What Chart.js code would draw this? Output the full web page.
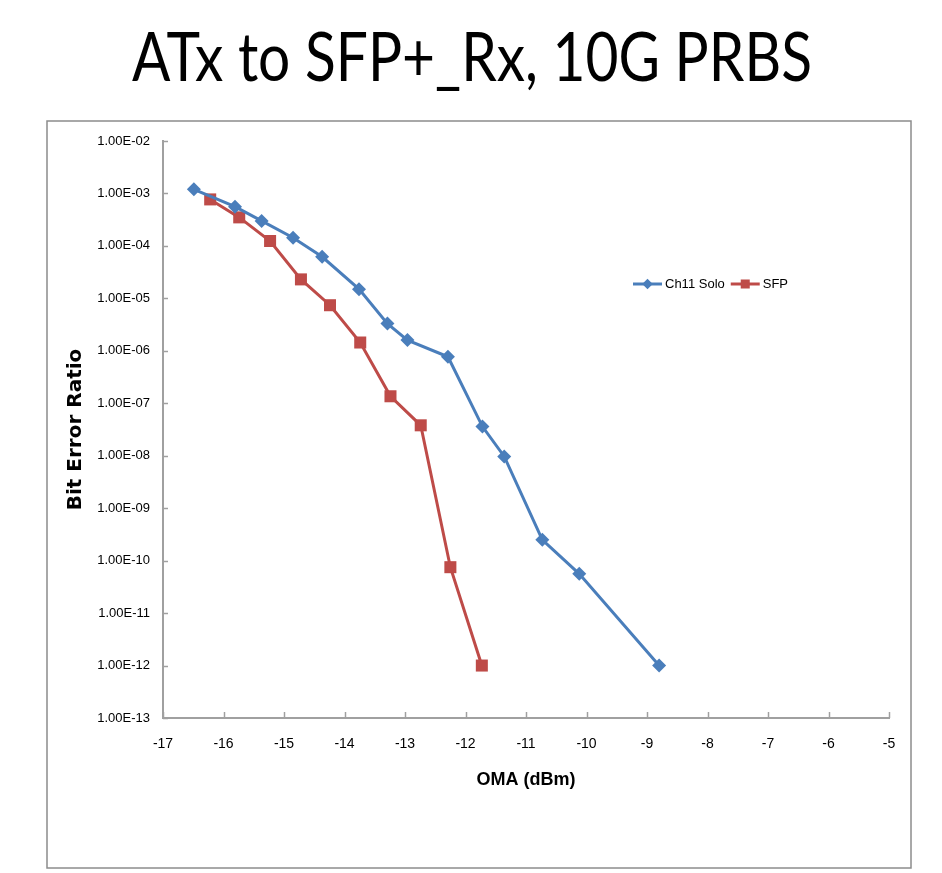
<!DOCTYPE html>
<html>
<head>
<meta charset="utf-8">
<title>ATx to SFP+_Rx, 10G PRBS</title>
<script src="https://cdn.jsdelivr.net/npm/chart.js@4.4.1/dist/chart.umd.min.js"></script>
<style>
  html, body { margin: 0; padding: 0; background: #fff; }
  canvas { display: block; }
</style>
</head>
<body>
<canvas id="berChart" width="942" height="873"></canvas>
<script>
// values: OMA in dBm, bit error ratio
const ch11Oma = [-16.49, -15.81, -15.37, -14.85, -14.37, -13.76, -13.29, -12.96, -12.29, -11.72, -11.36, -10.73, -10.12, -8.8];
const ch11Ber = [1.2e-3, 5.6e-4, 3.0e-4, 1.43e-4, 6.2e-5, 1.5e-5, 3.3e-6, 1.6e-6, 7.7e-7, 3.6e-8, 9.7e-9, 2.5e-10, 5.6e-11, 1.0e-12];
const sfpOma = [-16.22, -15.74, -15.23, -14.72, -14.24, -13.74, -13.24, -12.74, -12.25, -11.73];
const sfpBer = [7.7e-4, 3.5e-4, 1.24e-4, 2.3e-5, 7.4e-6, 1.44e-6, 1.36e-7, 3.8e-8, 7.5e-11, 1.0e-12];

const berTicks = [1e-2, 1e-3, 1e-4, 1e-5, 1e-6, 1e-7, 1e-8, 1e-9, 1e-10, 1e-11, 1e-12, 1e-13];
const berTickLabels = ['1.00E-02', '1.00E-03', '1.00E-04', '1.00E-05', '1.00E-06', '1.00E-07',
  '1.00E-08', '1.00E-09', '1.00E-10', '1.00E-11', '1.00E-12', '1.00E-13'];
const omaTicks = [-17, -16, -15, -14, -13, -12, -11, -10, -9, -8, -7, -6, -5];

const tickFont = { family: '"Liberation Sans Narrow", "Arial Narrow", "Liberation Sans", sans-serif', size: 13 };
const axisGray = '#a0a0a0';

function toPoints(xs, ys) {
  return xs.map((x, i) => ({ x: x, y: ys[i] }));
}

// frame, title, inside tick marks and the legend
const decorations = {
  id: 'decorations',
  beforeDraw(chart) {
    const ctx = chart.ctx;
    ctx.save();
    ctx.fillStyle = '#fff';
    ctx.fillRect(0, 0, chart.width, chart.height);
    ctx.restore();
  },
  afterDraw(chart) {
    const ctx = chart.ctx;
    const area = chart.chartArea;
    ctx.save();

    // outer frame
    ctx.strokeStyle = '#8c8c8c';
    ctx.lineWidth = 1.5;
    ctx.strokeRect(47, 121, 864, 747);

    // title
    ctx.fillStyle = '#000';
    ctx.font = '68px Lato, "Open Sans", sans-serif';
    ctx.textAlign = 'center';
    ctx.textBaseline = 'alphabetic';
    ctx.fillText('ATx to SFP+_Rx, 10G PRBS', 472, 81, 680);

    // tick marks point inward
    ctx.strokeStyle = axisGray;
    ctx.lineWidth = 1.5;
    const xs = chart.scales.x, ys = chart.scales.y;
    xs.ticks.forEach(t => {
      const px = Math.round(xs.getPixelForValue(t.value)) + 0.5;
      ctx.beginPath();
      ctx.moveTo(px, area.bottom);
      ctx.lineTo(px, area.bottom - 6);
      ctx.stroke();
    });
    ys.ticks.forEach(t => {
      const py = Math.round(ys.getPixelForValue(t.value)) + 0.5;
      ctx.beginPath();
      ctx.moveTo(area.left, py);
      ctx.lineTo(area.left + 5, py);
      ctx.stroke();
    });

    // legend
    let lx = 633;
    const ly = 284;
    ctx.font = '13px ' + tickFont.family;
    ctx.textAlign = 'left';
    ctx.textBaseline = 'middle';
    chart.data.datasets.forEach(ds => {
      ctx.strokeStyle = ds.borderColor;
      ctx.lineWidth = ds.borderWidth;
      ctx.beginPath();
      ctx.moveTo(lx, ly);
      ctx.lineTo(lx + 29, ly);
      ctx.stroke();
      ctx.fillStyle = ds.pointBackgroundColor;
      Chart.helpers.drawPoint(ctx, {
        pointStyle: ds.pointStyle,
        radius: ds.pointRadius * 0.75,
        rotation: 0,
        borderWidth: 0
      }, lx + 14.5, ly);
      ctx.fillStyle = '#000';
      ctx.fillText(ds.label, lx + 32, ly);
      lx += 32 + ctx.measureText(ds.label).width + 6;
    });

    ctx.restore();
  }
};

const ctx = document.getElementById('berChart').getContext('2d');
const chart = new Chart(ctx, {
  type: 'scatter',
  data: {
    datasets: [
      {
        label: 'Ch11 Solo',
        data: toPoints(ch11Oma, ch11Ber),
        showLine: true,
        borderColor: '#4a7ebb',
        backgroundColor: '#4a7ebb',
        pointBackgroundColor: '#4a7ebb',
        pointBorderColor: '#4a7ebb',
        borderWidth: 3,
        pointStyle: 'rectRot',
        pointRadius: 7,
        pointBorderWidth: 0
      },
      {
        label: 'SFP',
        data: toPoints(sfpOma, sfpBer),
        showLine: true,
        borderColor: '#be4b48',
        backgroundColor: '#be4b48',
        pointBackgroundColor: '#be4b48',
        pointBorderColor: '#be4b48',
        borderWidth: 3,
        pointStyle: 'rect',
        pointRadius: 8.5,
        pointBorderWidth: 0
      }
    ]
  },
  options: {
    responsive: false,
    animation: false,
    layout: { padding: { top: 141, right: 53, left: 0, bottom: 0 } },
    plugins: {
      legend: { display: false },
      tooltip: { enabled: false }
    },
    scales: {
      x: {
        type: 'linear',
        min: -17,
        max: -5,
        afterBuildTicks: scale => { scale.ticks = omaTicks.map(v => ({ value: v })); },
        afterFit: scale => { scale.height = 155; },
        grid: { display: true, drawOnChartArea: false, drawTicks: false },
        border: { display: true, color: axisGray, width: 2 },
        ticks: { color: '#000', font: { family: tickFont.family, size: 14 }, padding: 18, maxRotation: 0 },
        title: {
          display: true,
          text: 'OMA (dBm)',
          color: '#000',
          font: { family: '"Liberation Sans", Arial, sans-serif', size: 18, weight: 'bold' },
          padding: { bottom: 82 }
        }
      },
      y: {
        type: 'logarithmic',
        min: 1e-13,
        max: 1e-2,
        afterBuildTicks: scale => { scale.ticks = berTicks.map(v => ({ value: v })); },
        afterFit: scale => { scale.width = 163; },
        grid: { display: true, drawOnChartArea: false, drawTicks: false },
        border: { display: true, color: axisGray, width: 2 },
        ticks: {
          color: '#000',
          font: tickFont,
          padding: 13,
          callback: (value) => {
            const i = berTicks.findIndex(t => Math.abs(Math.log10(t) - Math.log10(value)) < 1e-6);
            return i >= 0 ? berTickLabels[i] : '';
          }
        },
        title: {
          display: true,
          text: 'Bit Error Ratio',
          color: '#000',
          font: { family: '"DejaVu Sans", Verdana, sans-serif', size: 20, weight: 'bold' },
          padding: { top: 64 }
        }
      }
    }
  },
  plugins: [decorations]
});
</script>
</body>
</html>
